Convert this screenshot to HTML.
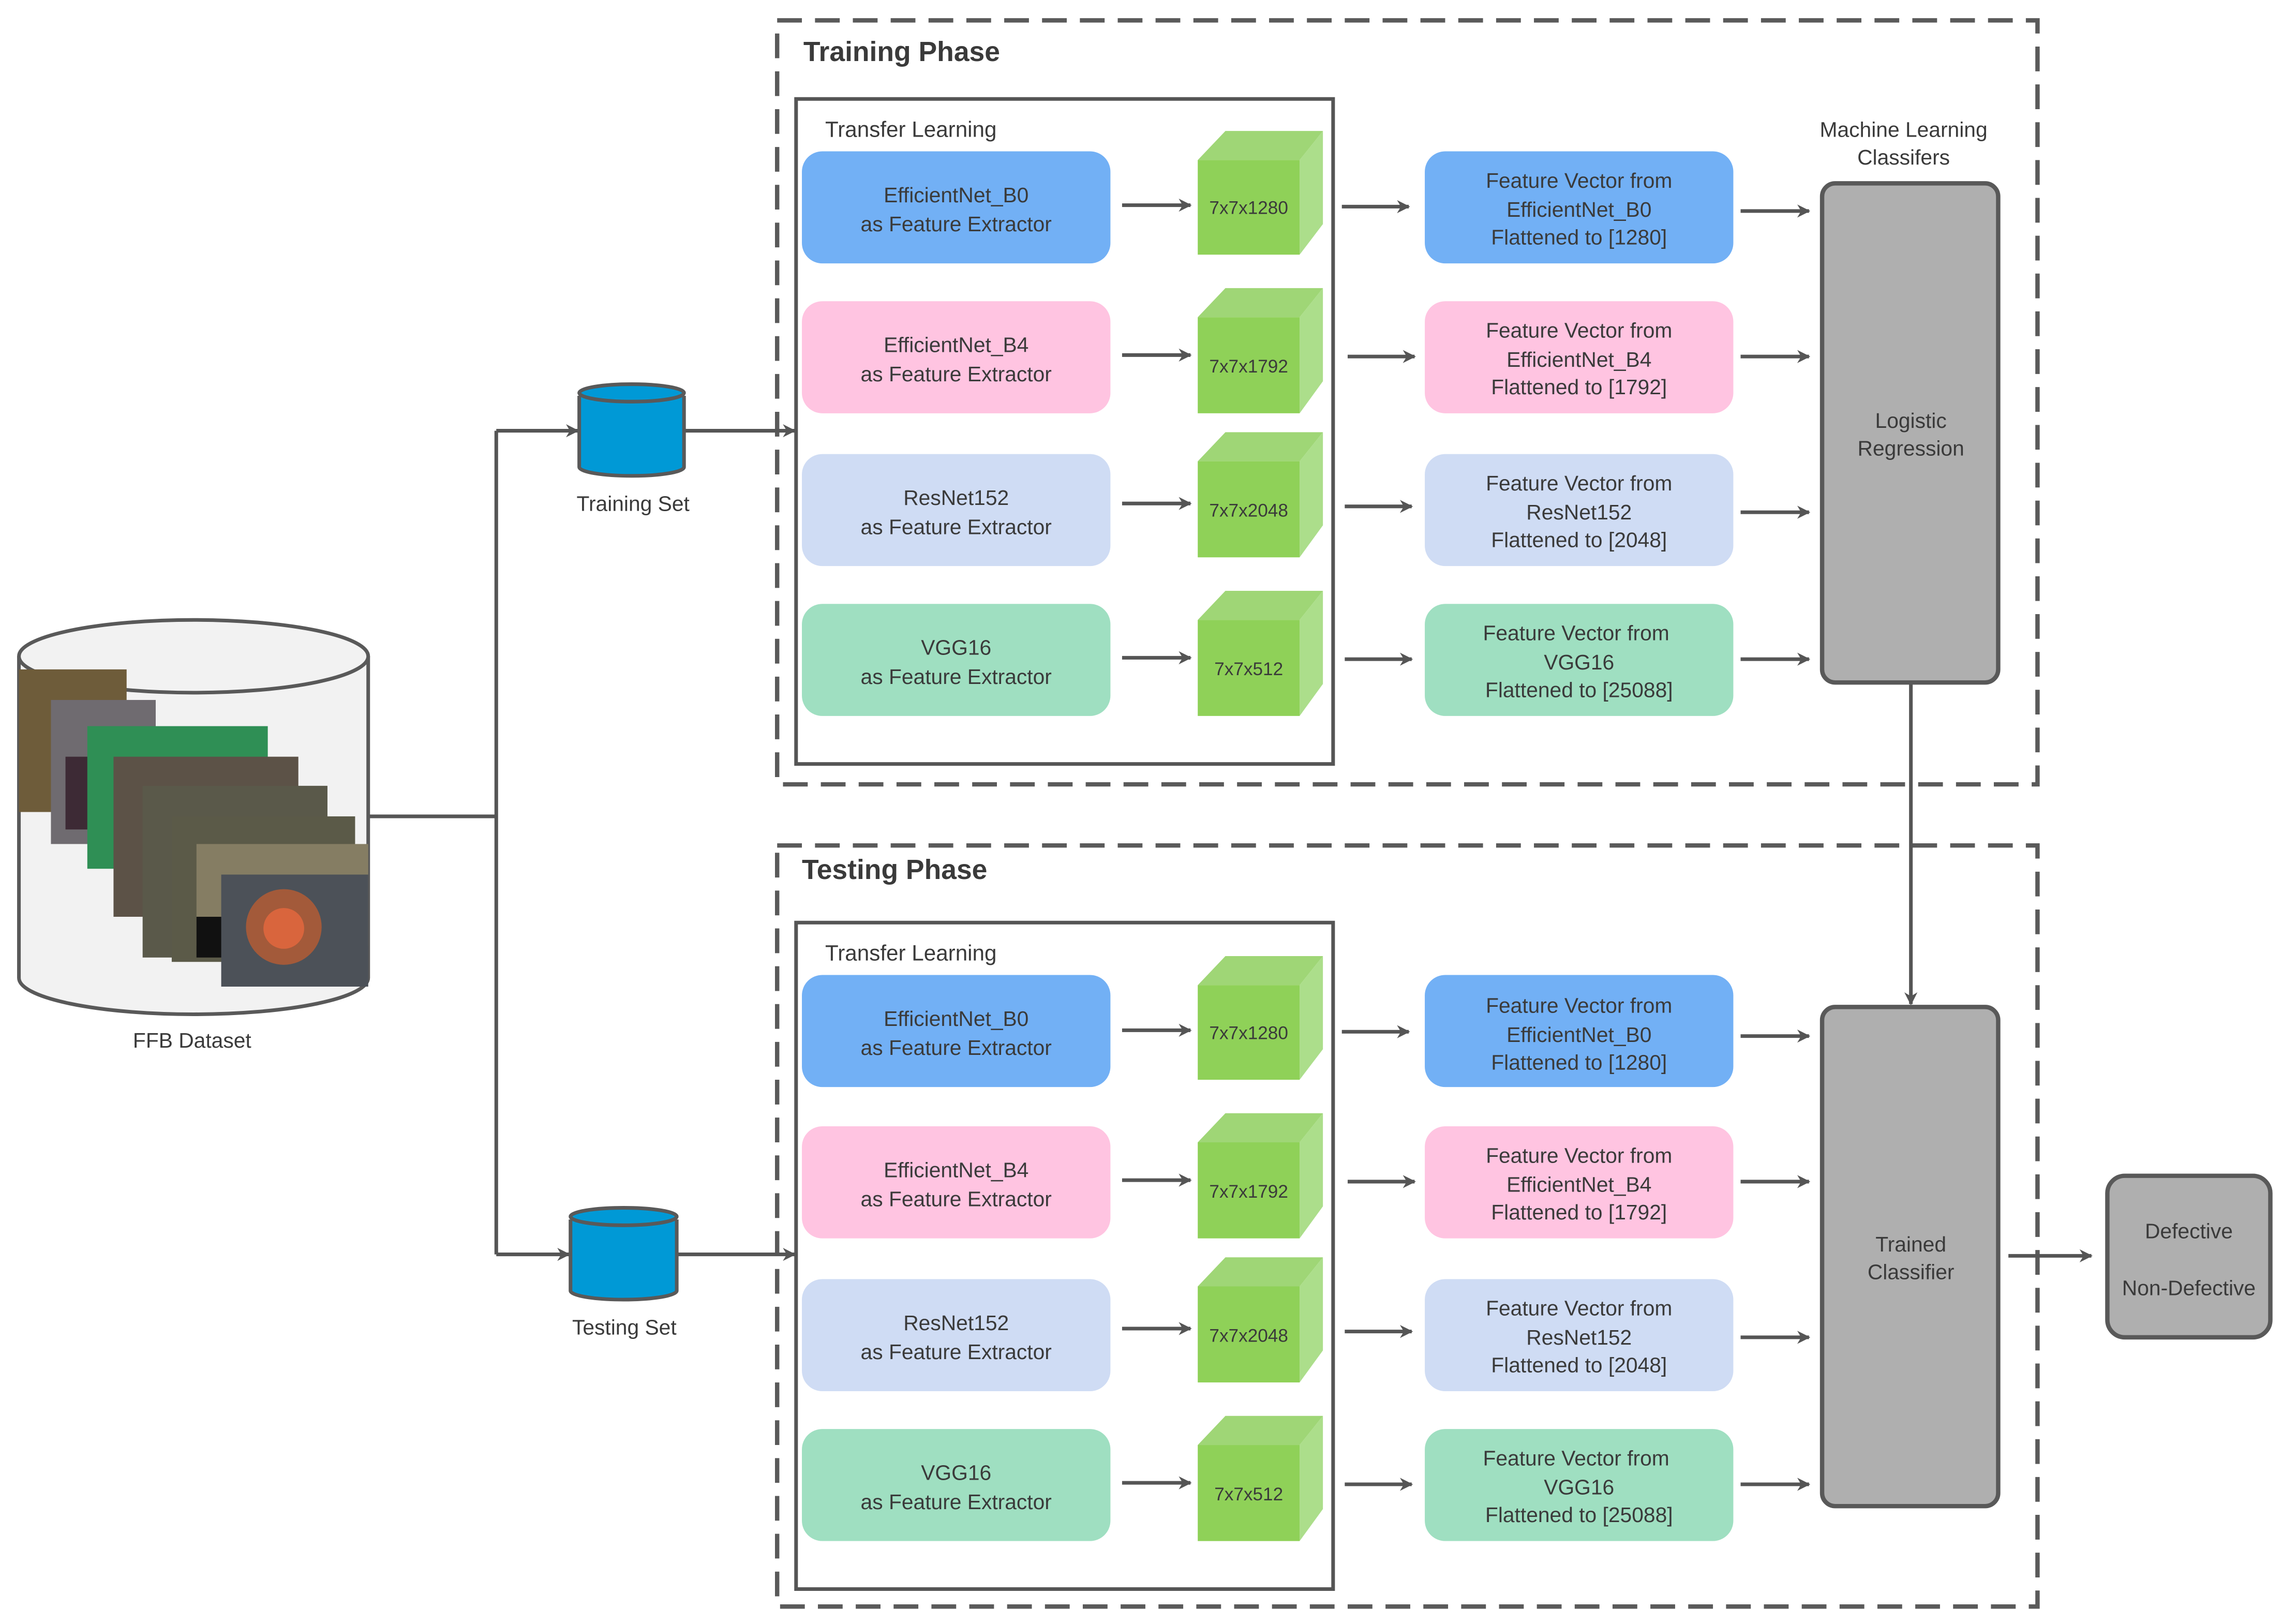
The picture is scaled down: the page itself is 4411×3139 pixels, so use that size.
<!DOCTYPE html>
<html><head><meta charset="utf-8"><style>
html,body{margin:0;padding:0;background:#fff;}
svg{display:block;}
text{font-family:"Liberation Sans","DejaVu Sans",sans-serif;fill:#3a3a3a;}
</style></head><body>
<svg width="4411" height="3139" viewBox="0 0 1568 1116" preserveAspectRatio="none" xmlns="http://www.w3.org/2000/svg">
<defs>
<marker id="ar2" viewBox="0 0 10 10" refX="9" refY="5" markerWidth="9" markerHeight="9" orient="auto" markerUnits="userSpaceOnUse"><path d="M0,0 L10,5 L0,10 L3,5 z" fill="#555"/></marker>
</defs>

<rect x="534" y="14" width="866" height="525" fill="none" stroke="#5a5a5a" stroke-width="3" stroke-dasharray="17 9"/>
<rect x="534" y="581" width="866" height="523" fill="none" stroke="#5a5a5a" stroke-width="3" stroke-dasharray="17 9"/>
<text x="552" y="42" font-size="19" font-weight="bold" fill="#3a3a3a">Training Phase</text>
<text x="551" y="604" font-size="19" font-weight="bold" fill="#3a3a3a">Testing Phase</text>

<rect x="547" y="68" width="369" height="457" fill="#fff" stroke="#555" stroke-width="2.5"/>
<rect x="547" y="634" width="369" height="458" fill="#fff" stroke="#555" stroke-width="2.5"/>
<text x="567" y="94" font-size="15">Transfer Learning</text>
<text x="567" y="660" font-size="15">Transfer Learning</text>

<g font-size="14.5" text-anchor="middle">
<rect x="551" y="104" width="212" height="77" rx="14" fill="#72b0f5"/>
<text x="657" y="139">EfficientNet_B0</text><text x="657" y="159">as Feature Extractor</text>
<rect x="551" y="207" width="212" height="77" rx="14" fill="#ffc4e1"/>
<text x="657" y="242">EfficientNet_B4</text><text x="657" y="262">as Feature Extractor</text>
<rect x="551" y="312" width="212" height="77" rx="14" fill="#cfdcf4"/>
<text x="657" y="347">ResNet152</text><text x="657" y="367">as Feature Extractor</text>
<rect x="551" y="415" width="212" height="77" rx="14" fill="#9fdfc1"/>
<text x="657" y="450">VGG16</text><text x="657" y="470">as Feature Extractor</text>

<rect x="979" y="104" width="212" height="77" rx="14" fill="#72b0f5"/>
<text x="1085" y="129">Feature Vector from</text><text x="1085" y="149">EfficientNet_B0</text><text x="1085" y="168">Flattened to [1280]</text>
<rect x="979" y="207" width="212" height="77" rx="14" fill="#ffc4e1"/>
<text x="1085" y="232">Feature Vector from</text><text x="1085" y="252">EfficientNet_B4</text><text x="1085" y="271">Flattened to [1792]</text>
<rect x="979" y="312" width="212" height="77" rx="14" fill="#cfdcf4"/>
<text x="1085" y="337">Feature Vector from</text><text x="1085" y="357">ResNet152</text><text x="1085" y="376">Flattened to [2048]</text>
<rect x="979" y="415" width="212" height="77" rx="14" fill="#9fdfc1"/>
<text x="1083" y="440">Feature Vector from</text><text x="1085" y="460">VGG16</text><text x="1085" y="479">Flattened to [25088]</text>

<rect x="551" y="670" width="212" height="77" rx="14" fill="#72b0f5"/>
<text x="657" y="705">EfficientNet_B0</text><text x="657" y="725">as Feature Extractor</text>
<rect x="551" y="774" width="212" height="77" rx="14" fill="#ffc4e1"/>
<text x="657" y="809">EfficientNet_B4</text><text x="657" y="829">as Feature Extractor</text>
<rect x="551" y="879" width="212" height="77" rx="14" fill="#cfdcf4"/>
<text x="657" y="914">ResNet152</text><text x="657" y="934">as Feature Extractor</text>
<rect x="551" y="982" width="212" height="77" rx="14" fill="#9fdfc1"/>
<text x="657" y="1017">VGG16</text><text x="657" y="1037">as Feature Extractor</text>

<rect x="979" y="670" width="212" height="77" rx="14" fill="#72b0f5"/>
<text x="1085" y="696">Feature Vector from</text><text x="1085" y="716">EfficientNet_B0</text><text x="1085" y="735">Flattened to [1280]</text>
<rect x="979" y="774" width="212" height="77" rx="14" fill="#ffc4e1"/>
<text x="1085" y="799">Feature Vector from</text><text x="1085" y="819">EfficientNet_B4</text><text x="1085" y="838">Flattened to [1792]</text>
<rect x="979" y="879" width="212" height="77" rx="14" fill="#cfdcf4"/>
<text x="1085" y="904">Feature Vector from</text><text x="1085" y="924">ResNet152</text><text x="1085" y="943">Flattened to [2048]</text>
<rect x="979" y="982" width="212" height="77" rx="14" fill="#9fdfc1"/>
<text x="1083" y="1007">Feature Vector from</text><text x="1085" y="1027">VGG16</text><text x="1085" y="1046">Flattened to [25088]</text>
</g>

<g>
<polygon points="823,110 842,90 909,90 893,110" fill="#9fd676"/><polygon points="893,110 909,90 909,154 893,175" fill="#acde8b"/><rect x="823" y="110" width="70" height="65" fill="#8fd158"/>
<polygon points="823,218 842,198 909,198 893,218" fill="#9fd676"/><polygon points="893,218 909,198 909,262 893,284" fill="#acde8b"/><rect x="823" y="218" width="70" height="66" fill="#8fd158"/>
<polygon points="823,317 842,297 909,297 893,317" fill="#9fd676"/><polygon points="893,317 909,297 909,361 893,383" fill="#acde8b"/><rect x="823" y="317" width="70" height="66" fill="#8fd158"/>
<polygon points="823,426 842,406 909,406 893,426" fill="#9fd676"/><polygon points="893,426 909,406 909,470 893,492" fill="#acde8b"/><rect x="823" y="426" width="70" height="66" fill="#8fd158"/>
<polygon points="823,677 842,657 909,657 893,677" fill="#9fd676"/><polygon points="893,677 909,657 909,721 893,742" fill="#acde8b"/><rect x="823" y="677" width="70" height="65" fill="#8fd158"/>
<polygon points="823,785 842,765 909,765 893,785" fill="#9fd676"/><polygon points="893,785 909,765 909,829 893,851" fill="#acde8b"/><rect x="823" y="785" width="70" height="66" fill="#8fd158"/>
<polygon points="823,884 842,864 909,864 893,884" fill="#9fd676"/><polygon points="893,884 909,864 909,928 893,950" fill="#acde8b"/><rect x="823" y="884" width="70" height="66" fill="#8fd158"/>
<polygon points="823,993 842,973 909,973 893,993" fill="#9fd676"/><polygon points="893,993 909,973 909,1037 893,1059" fill="#acde8b"/><rect x="823" y="993" width="70" height="66" fill="#8fd158"/>
</g>
<g font-size="12.5" text-anchor="middle">
<text x="858" y="147">7x7x1280</text><text x="858" y="256">7x7x1792</text><text x="858" y="355">7x7x2048</text><text x="858" y="464">7x7x512</text>
<text x="858" y="714">7x7x1280</text><text x="858" y="823">7x7x1792</text><text x="858" y="922">7x7x2048</text><text x="858" y="1031">7x7x512</text>
</g>

<g stroke="#555" stroke-width="2.5" marker-end="url(#ar2)">
<line x1="771" y1="141" x2="818" y2="141"/><line x1="771" y1="244" x2="818" y2="244"/><line x1="771" y1="346" x2="818" y2="346"/><line x1="771" y1="452" x2="818" y2="452"/>
<line x1="922" y1="142" x2="968" y2="142"/><line x1="926" y1="245" x2="972" y2="245"/><line x1="924" y1="348" x2="970" y2="348"/><line x1="924" y1="453" x2="970" y2="453"/>
<line x1="1196" y1="145" x2="1243" y2="145"/><line x1="1196" y1="245" x2="1243" y2="245"/><line x1="1196" y1="352" x2="1243" y2="352"/><line x1="1196" y1="453" x2="1243" y2="453"/>
<line x1="771" y1="708" x2="818" y2="708"/><line x1="771" y1="811" x2="818" y2="811"/><line x1="771" y1="913" x2="818" y2="913"/><line x1="771" y1="1019" x2="818" y2="1019"/>
<line x1="922" y1="709" x2="968" y2="709"/><line x1="926" y1="812" x2="972" y2="812"/><line x1="924" y1="915" x2="970" y2="915"/><line x1="924" y1="1020" x2="970" y2="1020"/>
<line x1="1196" y1="712" x2="1243" y2="712"/><line x1="1196" y1="812" x2="1243" y2="812"/><line x1="1196" y1="919" x2="1243" y2="919"/><line x1="1196" y1="1020" x2="1243" y2="1020"/>
<line x1="1313" y1="469" x2="1313" y2="690"/>
<line x1="1380" y1="863" x2="1437" y2="863"/>
<line x1="470" y1="296" x2="546" y2="296"/>
<line x1="465" y1="862" x2="546" y2="862"/>
<line x1="341" y1="296" x2="397" y2="296"/>
<line x1="341" y1="862" x2="391" y2="862"/>
</g>
<polyline points="253,561 341,561" fill="none" stroke="#555" stroke-width="2.5"/>
<line x1="341" y1="296" x2="341" y2="862" stroke="#555" stroke-width="2.5"/>

<rect x="1252" y="126" width="121" height="343" rx="9" fill="#afafaf" stroke="#595959" stroke-width="3"/>
<rect x="1252" y="692" width="121" height="343" rx="9" fill="#afafaf" stroke="#595959" stroke-width="3"/>
<rect x="1448" y="808" width="112" height="111" rx="12" fill="#afafaf" stroke="#595959" stroke-width="3"/>
<g font-size="14.5" text-anchor="middle">
<text x="1308" y="94">Machine Learning</text><text x="1308" y="113">Classifers</text>
<text x="1313" y="294">Logistic</text><text x="1313" y="313">Regression</text>
<text x="1313" y="860">Trained</text><text x="1313" y="879">Classifier</text>
<text x="1504" y="851">Defective</text><text x="1504" y="890">Non-Defective</text>
<text x="435" y="351">Training Set</text>
<text x="429" y="917">Testing Set</text>
<text x="132" y="720">FFB Dataset</text>
</g>

<path d="M398,272 L398,321 A36,6 0 0 0 470,321 L470,272" fill="#0099d6" stroke="#595959" stroke-width="2.5"/>
<ellipse cx="434" cy="270" rx="36" ry="6" fill="#0099d6" stroke="#595959" stroke-width="2.5"/>
<path d="M392,838 L392,887 A36,6 0 0 0 465,887 L465,838" fill="#0099d6" stroke="#595959" stroke-width="2.5"/>
<ellipse cx="428.5" cy="836" rx="36.5" ry="6" fill="#0099d6" stroke="#595959" stroke-width="2.5"/>

<path d="M13,451 L13,672 A120,25 0 0 0 253,672 L253,451" fill="#f2f2f2" stroke="#595959" stroke-width="2.5"/>
<ellipse cx="133" cy="451" rx="120" ry="25" fill="#f2f2f2" stroke="#595959" stroke-width="2.5"/>
<rect x="13" y="460" width="74" height="98" fill="#6e5c3a"/>
<rect x="35" y="481" width="72" height="99" fill="#6f6b70"/>
<rect x="45" y="520" width="20" height="50" fill="#3d2a35"/>
<rect x="60" y="499" width="124" height="98" fill="#2f8f55"/>
<rect x="78" y="520" width="127" height="110" fill="#5c5247"/>
<rect x="98" y="540" width="127" height="118" fill="#5a594a"/>
<rect x="118" y="561" width="126" height="100" fill="#5b5a48"/>
<rect x="135" y="580" width="118" height="70" fill="#857d63"/>
<rect x="135" y="630" width="20" height="28" fill="#111"/>
<rect x="152" y="601" width="101" height="77" fill="#4c5158"/>
<circle cx="195" cy="637" r="26" fill="#a35a3a"/>
<circle cx="195" cy="638" r="14" fill="#d9653d"/>
</svg>
</body></html>
